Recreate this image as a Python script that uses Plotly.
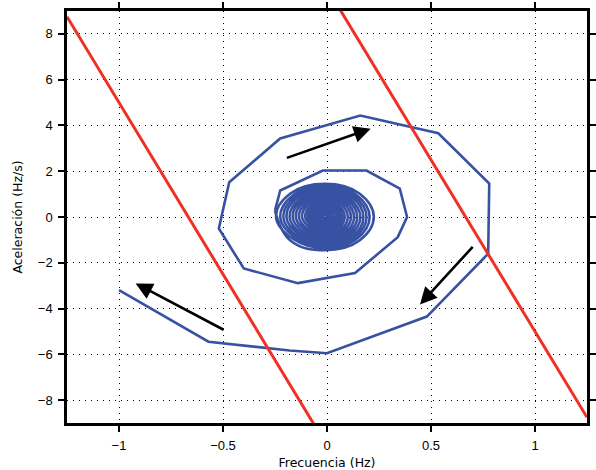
import plotly.graph_objects as go

# Blue trajectory, outer (polygonal) part
outer_x = [
    -1.0, -0.57, -0.18, 0.0, 0.48, 0.775, 0.78, 0.535, 0.16, -0.225, -0.47, -0.52,
    -0.40, -0.14, 0.135, 0.34, 0.385, 0.35, 0.19, -0.02, -0.225, -0.25,
]
outer_y = [
    -3.2, -5.45, -5.83, -5.95, -4.35, -1.6, 1.46, 3.66, 4.43, 3.43, 1.52, -0.5,
    -2.25, -2.89, -2.45, -0.88, 0.0, 1.24, 2.03, 2.03, 1.16, 0.28,
]

# Inner dense part of the spiral (estimated loops converging to the origin)
inner_x = [
    -0.25,
    -0.176, -0.01, 0.156, 0.225, 0.156, -0.01, -0.176, -0.245,
    -0.162, -0.01, 0.142, 0.205, 0.142, -0.01, -0.162, -0.225,
    -0.151, -0.01, 0.131, 0.19, 0.131, -0.01, -0.151, -0.21,
    -0.141, -0.01, 0.121, 0.175, 0.121, -0.01, -0.141, -0.195,
    -0.13, -0.01, 0.11, 0.16, 0.11, -0.01, -0.13, -0.18,
    -0.12, -0.01, 0.10, 0.145, 0.10, -0.01, -0.12, -0.165,
    -0.109, -0.01, 0.089, 0.13, 0.089, -0.01, -0.109, -0.15,
    -0.098, -0.01, 0.078, 0.115, 0.078, -0.01, -0.098, -0.135,
    -0.088, -0.01, 0.068, 0.10, 0.068, -0.01, -0.088, -0.12,
    -0.077, -0.01, 0.057, 0.085, 0.057, -0.01, -0.077, -0.105,
    -0.068, -0.01, 0.048, 0.072, 0.048, -0.01, -0.068, -0.092,
    -0.059, -0.01, 0.039, 0.06, 0.039, -0.01, -0.059, -0.08,
    -0.051, -0.01, 0.031, 0.048, 0.031, -0.01, -0.051, -0.068,
    -0.043, -0.01, 0.023, 0.036, 0.023, -0.01, -0.043, -0.056,
    -0.034, -0.01, 0.014, 0.024, 0.014, -0.01, -0.034, -0.044,
    -0.026, -0.01, 0.006, 0.012, 0.006, -0.01, -0.026, -0.032,
    -0.018, -0.01, -0.002, 0.001, -0.002, -0.01, -0.018, -0.021,
    -0.01,
]
inner_y = [
    0.28,
    -1.025, -1.45, -1.025, 0.0, 1.025, 1.45, 1.025, 0.0,
    -0.96, -1.36, -0.96, 0.0, 0.96, 1.36, 0.96, 0.0,
    -0.905, -1.28, -0.905, 0.0, 0.905, 1.28, 0.905, 0.0,
    -0.85, -1.2, -0.85, 0.0, 0.85, 1.2, 0.85, 0.0,
    -0.79, -1.12, -0.79, 0.0, 0.79, 1.12, 0.79, 0.0,
    -0.735, -1.04, -0.735, 0.0, 0.735, 1.04, 0.735, 0.0,
    -0.68, -0.96, -0.68, 0.0, 0.68, 0.96, 0.68, 0.0,
    -0.62, -0.88, -0.62, 0.0, 0.62, 0.88, 0.62, 0.0,
    -0.56, -0.79, -0.56, 0.0, 0.56, 0.79, 0.56, 0.0,
    -0.495, -0.70, -0.495, 0.0, 0.495, 0.70, 0.495, 0.0,
    -0.43, -0.61, -0.43, 0.0, 0.43, 0.61, 0.43, 0.0,
    -0.37, -0.52, -0.37, 0.0, 0.37, 0.52, 0.37, 0.0,
    -0.30, -0.43, -0.30, 0.0, 0.30, 0.43, 0.30, 0.0,
    -0.24, -0.34, -0.24, 0.0, 0.24, 0.34, 0.24, 0.0,
    -0.18, -0.25, -0.18, 0.0, 0.18, 0.25, 0.18, 0.0,
    -0.11, -0.16, -0.11, 0.0, 0.11, 0.16, 0.11, 0.0,
    -0.057, -0.08, -0.057, 0.0, 0.057, 0.08, 0.057, 0.0,
    0.0,
]

# Red boundary lines: y = -15 x + 10 and y = -15 x - 10
red_x = [-1.25, 1.25]
red_upper_y = [28.75, -8.75]
red_lower_y = [8.75, -28.75]

# Direction arrows (tail -> head)
arrow_tail_x = [-0.20, 0.707, -0.49]
arrow_tail_y = [2.56, -1.24, -4.96]
arrow_head_x = [0.21, 0.447, -0.92]
arrow_head_y = [3.86, -3.82, -2.90]

x_ticks = [-1, -0.5, 0, 0.5, 1]
x_tick_text = ["\u22121", "\u22120.5", "0", "0.5", "1"]
y_ticks = [-8, -6, -4, -2, 0, 2, 4, 6, 8]
y_tick_text = ["\u22128", "\u22126", "\u22124", "\u22122", "0", "2", "4", "6", "8"]

BLUE = "#3852a3"
RED = "#ee3124"

fig = go.Figure()
fig.add_trace(go.Scatter(x=outer_x, y=outer_y, mode="lines",
                         line=dict(color=BLUE, width=2.6)))
fig.add_trace(go.Scatter(x=inner_x, y=inner_y, mode="lines",
                         line=dict(color=BLUE, width=2.6, shape="spline",
                                   smoothing=1.2)))
fig.add_trace(go.Scatter(x=red_x, y=red_upper_y, mode="lines",
                         line=dict(color=RED, width=3)))
fig.add_trace(go.Scatter(x=red_x, y=red_lower_y, mode="lines",
                         line=dict(color=RED, width=3)))

for tx, ty, hx, hy in zip(arrow_tail_x, arrow_tail_y, arrow_head_x, arrow_head_y):
    fig.add_annotation(x=hx, y=hy, ax=tx, ay=ty, xref="x", yref="y",
                       axref="x", ayref="y", showarrow=True, text="",
                       arrowhead=2, arrowsize=1.3, arrowwidth=2.6,
                       arrowcolor="black")

tick_font = dict(family="Liberation Sans, Arial, sans-serif", size=13, color="black")
title_font = dict(family="DejaVu Sans, sans-serif", size=12.5, color="black")

axis_common = dict(
    showgrid=True, gridcolor="black", griddash="1.3px,4.7px", gridwidth=1.3,
    showline=True, linecolor="black", linewidth=2.5, mirror="ticks",
    ticks="outside", ticklen=6, tickwidth=2, tickcolor="black",
    ticklabelstandoff=3,
    zeroline=False, automargin=False,
    tickfont=tick_font, title_font=title_font,
)

fig.update_xaxes(range=[-1.25, 1.25], tickvals=x_ticks, ticktext=x_tick_text,
                 title_text="Frecuencia (Hz)", title_standoff=8, **axis_common)
fig.update_yaxes(range=[-9, 9], tickvals=y_ticks, ticktext=y_tick_text,
                 title_text="Aceleración (Hz/s)", title_standoff=13, **axis_common)

fig.update_layout(
    width=596, height=470,
    margin=dict(l=67, r=9, t=11, b=47),
    paper_bgcolor="white", plot_bgcolor="white",
    showlegend=False,
)

fig.write_html("out.html")
